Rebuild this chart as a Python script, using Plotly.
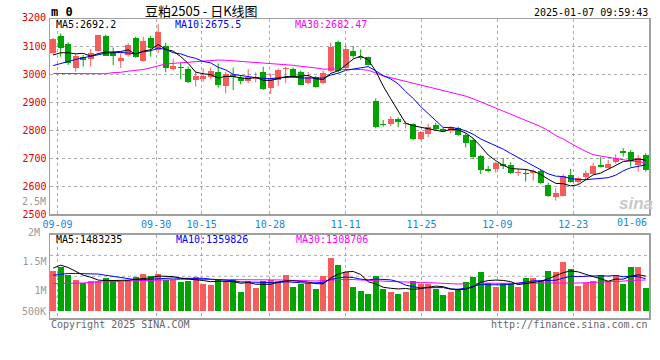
import plotly.graph_objects as go

# ---------------- data ----------------
opens = [3074, 3136, 3107, 3022, 3060, 3054, 3082, 3137, 3077, 3047,
         3068, 3130, 3046, 3130, 3086, 3100, 3018, 3023, 3017, 2979,
         2982, 2988, 3008, 2958, 2995, 2984, 2975, 2981, 3008, 2951,
         2979, 3017, 3018, 3007, 2969, 2990, 2967, 3010, 3115, 3020,
         3082, 3062, 3060, 2904, 2823, 2822, 2841, 2820, 2820, 2768,
         2786, 2818, 2805, 2798, 2808, 2782, 2764, 2707, 2660, 2662,
         2680, 2675, 2648, 2648, 2645, 2654, 2604, 2562, 2564, 2640,
         2614, 2633, 2643, 2675, 2665, 2686, 2726, 2720, 2675, 2711]
highs = [3129, 3145, 3113, 3071, 3068, 3089, 3140, 3140, 3095, 3074,
         3110, 3133, 3133, 3136, 3179, 3112, 3055, 3042, 3026, 3012,
         3020, 3023, 3038, 3008, 3023, 2996, 3018, 3006, 3026, 3002,
         3020, 3026, 3023, 3012, 3007, 2993, 3012, 3112, 3119, 3104,
         3100, 3088, 3062, 2912, 2836, 2848, 2845, 2832, 2824, 2797,
         2822, 2826, 2810, 2814, 2812, 2788, 2770, 2711, 2672, 2687,
         2700, 2685, 2661, 2661, 2660, 2657, 2612, 2592, 2642, 2661,
         2633, 2655, 2683, 2703, 2693, 2714, 2735, 2729, 2711, 2717]
lows = [3068, 3062, 3032, 3008, 3026, 3026, 3080, 3064, 3032, 3022,
        3062, 3058, 3044, 3062, 3074, 3006, 3012, 2981, 2967, 2955,
        2972, 2981, 2951, 2931, 2943, 2963, 2967, 2970, 2943, 2929,
        2957, 2967, 2985, 2960, 2963, 2951, 2963, 3006, 3005, 3015,
        3056, 3050, 3030, 2806, 2812, 2814, 2810, 2805, 2764, 2764,
        2774, 2798, 2793, 2788, 2779, 2738, 2695, 2643, 2648, 2648,
        2660, 2643, 2636, 2616, 2619, 2607, 2561, 2548, 2562, 2612,
        2607, 2622, 2641, 2666, 2662, 2679, 2705, 2669, 2651, 2652]
closes = [3125, 3092, 3038, 3064, 3050, 3074, 3139, 3065, 3065, 3058,
          3104, 3062, 3118, 3092, 3150, 3020, 3028, 3021, 2970, 2993,
          2993, 3012, 2961, 2999, 2988, 2976, 2990, 2988, 2946, 2985,
          3014, 3020, 2988, 2962, 2990, 2955, 3005, 3098, 3010, 3089,
          3065, 3058, 3032, 2810, 2819, 2839, 2827, 2824, 2767, 2794,
          2810, 2802, 2797, 2811, 2782, 2755, 2705, 2657, 2654, 2683,
          2670, 2648, 2651, 2643, 2654, 2610, 2564, 2576, 2637, 2616,
          2629, 2645, 2672, 2668, 2680, 2699, 2717, 2688, 2699, 2658]
volumes = [1337000, 1404000, 1264000, 1180000, 1124000, 1163000, 1163000, 1219000, 1180000, 1141000,
           1180000, 1236000, 1281000, 1253000, 1281000, 1180000, 1191000, 1152000, 1163000, 1236000,
           1113000, 1096000, 1197000, 1152000, 1197000, 983000, 1163000, 1051000, 1163000, 1180000,
           1163000, 1264000, 1068000, 1107000, 1124000, 1029000, 1253000, 1556000, 1433000, 1309000,
           1068000, 1000000, 944000, 1247000, 1029000, 983000, 944000, 983000, 1163000, 1107000,
           1107000, 1029000, 928000, 983000, 1029000, 1152000, 1230000, 1320000, 1124000, 1068000,
           1124000, 1124000, 1068000, 1219000, 1219000, 1163000, 1332000, 1320000, 1483000, 1365000,
           1085000, 1124000, 1163000, 1264000, 1163000, 1264000, 1118000, 1399000, 1399000, 1045000]

# moving-average values at the left edge (history before the window)
ma5_early = [3068, 3076, 3076, 3072]
ma10_early = [3030, 3038, 3045, 3052, 3058, 3063, 3070, 3074, 3076]
ma30_early = [3002, 3002, 3001, 3000, 3000, 3000, 3000, 3001, 3005, 3006,
              3010, 3012, 3016, 3022, 3030, 3036, 3038, 3040, 3042, 3044,
              3048, 3050, 3050, 3049, 3047, 3045, 3043, 3041, 3039]
vma5_early = [1380000, 1430000, 1390000, 1330000]
vma10_early = [1260000, 1280000, 1290000, 1290000, 1290000, 1290000, 1280000, 1260000, 1240000]
vma30_early = [1120000, 1120000, 1120000, 1130000, 1130000, 1140000, 1150000, 1150000, 1150000, 1160000,
               1160000, 1170000, 1170000, 1180000, 1180000, 1180000, 1190000, 1190000, 1190000, 1190000,
               1190000, 1190000, 1190000, 1190000, 1190000, 1190000, 1190000, 1190000, 1190000]

tick_labels = ["09-09", "09-30", "10-15", "10-28", "11-11", "11-25", "12-09", "12-23", "01-06"]
tick_index = [1, 14, 20, 29, 39, 49, 59, 69, 78]
price_ticks = [2500, 2600, 2700, 2800, 2900, 3000, 3100]

title_text = "豆粕2505 - 日K线图"
time_text = "2025-01-07 09:59:43"
legend_main = ["MA5:2692.2", "MA10:2675.5", "MA30:2682.47"]
legend_vol = ["MA5:1483235", "MA10:1359826", "MA30:1308706"]

# ---------------- helpers ----------------
N = len(closes)
idx = list(range(N))


def moving(vals, n, early):
    out = []
    for i in range(N):
        if i >= n - 1:
            out.append(sum(vals[i - n + 1:i + 1]) / n)
        else:
            out.append(early[i])
    return out


ma5 = moving(closes, 5, ma5_early)
ma10 = moving(closes, 10, ma10_early)
ma30 = moving(closes, 30, ma30_early)
vma5 = moving(volumes, 5, vma5_early)
vma10 = moving(volumes, 10, vma10_early)
vma30 = moving(volumes, 30, vma30_early)

RED = "#f65c5c"
GREEN = "#00a400"
MONO = "DejaVu Sans Mono"

W, H = 660, 360
ML, MR, MT, MB = 50, 11, 19, 42
PW = W - ML - MR
PH = H - MT - MB
main_bottom_px = 214
vol_top_px = 234.5
main_dom = [(H - MB - main_bottom_px) / PH, 1]
vol_dom = [0, (H - MB - vol_top_px) / PH]

slot_px = 7.5
first_px = 53.2
x_range = [(ML - first_px) / slot_px, (W - MR - first_px) / slot_px]
price_range = [2500, 2500 + (main_bottom_px - MT) / 0.28]
vol_per_px = 1e6 / 59.4
vol_range = [1e6 - (H - MB - 290.7) * vol_per_px, 1e6 + (290.7 - vol_top_px) * vol_per_px]
vol_base = 1e6 - (310.7 - 290.7) * vol_per_px

# Sina spreads the date grid over N-1 steps
step = (x_range[1] - x_range[0]) / (N - 1)
tick_x = [x_range[0] + k * step for k in tick_index]

colors = [RED if c >= o else GREEN for o, c in zip(opens, closes)]
body_base = [min(o, c) for o, c in zip(opens, closes)]
body_h = [max(abs(c - o), 3.6) for o, c in zip(opens, closes)]

fig = go.Figure()

# wicks
for col in (RED, GREEN):
    wx, wy = [], []
    for i in idx:
        if colors[i] == col:
            wx += [i, i, None]
            wy += [lows[i], highs[i], None]
    fig.add_trace(go.Scatter(x=wx, y=wy, mode="lines", line=dict(color=col, width=1),
                             xaxis="x", yaxis="y", hoverinfo="skip"))

# bodies
fig.add_trace(go.Bar(x=idx, y=body_h, base=body_base, width=0.78,
                     marker=dict(color=colors, line=dict(width=0)),
                     xaxis="x", yaxis="y"))

# price MAs
for arr, col in ((ma30, "#ff00ff"), (ma10, "#0000ff"), (ma5, "#000000")):
    fig.add_trace(go.Scatter(x=idx, y=arr, mode="lines", line=dict(color=col, width=1),
                             xaxis="x", yaxis="y"))

# volume bars
fig.add_trace(go.Bar(x=idx, y=[v - vol_base for v in volumes], base=vol_base, width=0.78,
                     marker=dict(color=colors, line=dict(width=0)),
                     xaxis="x2", yaxis="y2"))
for arr, col in ((vma30, "#ff00ff"), (vma10, "#0000ff"), (vma5, "#000000")):
    fig.add_trace(go.Scatter(x=idx, y=arr, mode="lines", line=dict(color=col, width=1),
                             xaxis="x2", yaxis="y2"))

axis_line = dict(showline=True, mirror=True, linecolor="#a0a0a0", linewidth=1.5, zeroline=False)
grid = dict(showgrid=True, gridcolor="#aaaaaa", griddash="dot", gridwidth=1)

fig.update_layout(
    width=W, height=H, margin=dict(l=ML, r=MR, t=MT, b=MB, autoexpand=False),
    paper_bgcolor="white", plot_bgcolor="white", showlegend=False, barmode="overlay",
    bargap=0, hovermode=False,
    xaxis=dict(domain=[0, 1], anchor="y", range=x_range, tickvals=tick_x[:-1],
               ticktext=tick_labels[:-1], ticks="", tickfont=dict(family=MONO, size=10, color="#1a86d8"),
               **grid, **axis_line),
    yaxis=dict(domain=main_dom, anchor="x", range=price_range, tickvals=price_ticks,
               ticktext=[str(v) for v in price_ticks], ticks="",
               tickfont=dict(family=MONO, size=10, color="#e00000"), **grid, **axis_line),
    xaxis2=dict(domain=[0, 1], anchor="y2", range=x_range, tickvals=tick_x[:-1],
                showticklabels=False, ticks="", **grid, **axis_line),
    yaxis2=dict(domain=vol_dom, anchor="x2", range=vol_range, tickvals=[1e6, 1.5e6],
                ticktext=["1M", "1.5M"], ticks="", showgrid=False,
                tickfont=dict(family=MONO, size=10, color="#999999"), **axis_line),
)

# volume grid at quarter heights
for f in (0.25, 0.5, 0.75):
    fig.add_shape(type="line", xref="x2 domain", yref="y2 domain", x0=0, x1=1, y0=f, y1=f,
                  line=dict(color="#aaaaaa", width=1, dash="dot"), layer="below")


def px(xp):
    return (xp - ML) / PW


def py(yp):
    return (H - MB - yp) / PH


def note(text, xp, yp, color, size=10, xanchor="left", family=MONO, bold=False):
    fig.add_annotation(text=("<b>%s</b>" % text) if bold else text, x=px(xp), y=py(yp),
                       xref="paper", yref="paper", xanchor=xanchor, yanchor="middle",
                       showarrow=False, font=dict(family=family, size=size, color=color),
                       borderpad=0)


note("m 0", 50, 12, "#000000", size=12, bold=True)
note(title_text, 201, 10, "#000000", size=13, xanchor="center", family="Noto Sans CJK SC")
note(time_text, 649, 12, "#000000", xanchor="right")
note("3200", 47, 17, "#e00000", xanchor="right")
note("2.5M", 47, 201, "#999999", xanchor="right")
note("2M", 41, 232, "#999999", xanchor="right")
note("500K", 47, 311, "#999999", xanchor="right")
note(tick_labels[-1], 648, 222, "#1a86d8", xanchor="right")
for t, xp, col in zip(legend_main, (55, 174, 294), ("#000000", "#0000ff", "#ff00ff")):
    note(t, xp, 24.5, col)
for t, xp, col in zip(legend_vol, (54.5, 174.5, 294.5), ("#000000", "#0000ff", "#ff00ff")):
    note(t, xp, 239, col)
note("Copyright 2025 SINA.COM", 50, 324, "#666666")
note("http://finance.sina.com.cn", 649, 324, "#666666", xanchor="right")
note("<i>sina</i>", 636, 203, "#c8c8c8", size=17, xanchor="center", family="Liberation Sans", bold=True)

fig.write_html("out.html", config={"displayModeBar": False, "staticPlot": True},
               post_script="document.body.style.margin='0';document.body.style.padding='0';")
